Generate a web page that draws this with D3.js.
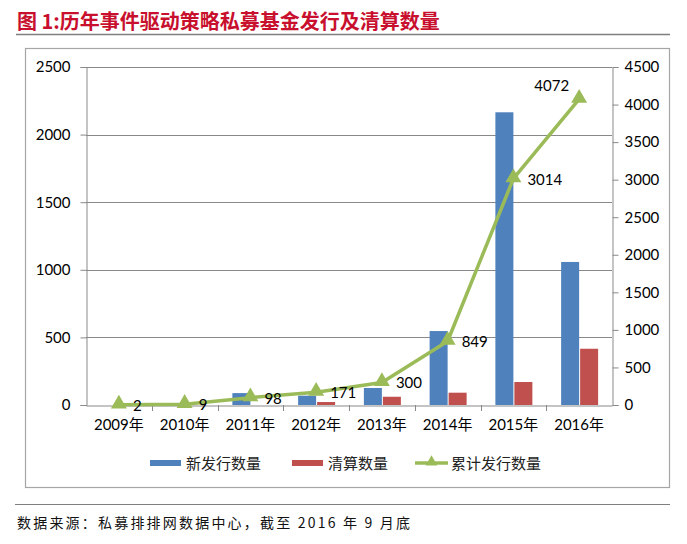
<!DOCTYPE html>
<html>
<head>
<meta charset="utf-8">
<script src="https://cdn.jsdelivr.net/npm/d3@7"></script>
<style>
  body { margin: 0; background: #fff; }
  text { font-family: Lato, "Noto Sans CJK SC", sans-serif; }
</style>
</head>
<body>
<div id="chart"></div>
<script>
// data
const years = ["2009年", "2010年", "2011年", "2012年", "2013年", "2014年", "2015年", "2016年"];
const newFunds = [0, 0, 88, 69, 126, 547, 2165, 1058];
const liquidated = [0, 0, 0, 22, 61, 91, 170, 416];
const cumulative = [2, 9, 98, 171, 300, 849, 3014, 4072];
const leftTicks = [0, 500, 1000, 1500, 2000, 2500];
const rightTicks = [0, 500, 1000, 1500, 2000, 2500, 3000, 3500, 4000, 4500];
const seriesNames = ["新发行数量", "清算数量", "累计发行数量"];

const W = 687, H = 544;
const plot = { left: 86, right: 612, top: 67, bottom: 405 };
const colors = { blue: "#4f81bd", red: "#c0504d", green: "#9bbb59", grid: "#898989" };

const svg = d3.select("#chart").append("svg")
  .attr("width", W).attr("height", H);

// title
svg.append("text")
  .attr("x", 17).attr("y", 29)
  .attr("fill", "#c8102e")
  .style("font-family", "'Noto Sans CJK SC', sans-serif")
  .style("font-size", "20px")
  .style("font-weight", "bold")
  .text("图 1:历年事件驱动策略私募基金发行及清算数量");

svg.append("line")
  .attr("x1", 16).attr("x2", 670).attr("y1", 34.5).attr("y2", 34.5)
  .attr("stroke", "#7f7f7f").attr("stroke-width", 1.5);

// chart frame
svg.append("rect")
  .attr("x", 25.5).attr("y", 48.5).attr("width", 644).attr("height", 439)
  .attr("fill", "none").attr("stroke", "#a6a6a6").attr("stroke-width", 1.2);

// scales
const x = d3.scaleBand().domain(years).range([plot.left, plot.right]);
const xInner = d3.scaleBand().domain(["new", "liq"]).range([0, 36]);
const yL = d3.scaleLinear().domain([0, 2500]).range([plot.bottom, plot.top]);
const yR = d3.scaleLinear().domain([0, 4500]).range([plot.bottom, plot.top]);

// gridlines
svg.append("g")
  .selectAll("line")
  .data(leftTicks.slice(1))
  .join("line")
  .attr("x1", plot.left).attr("x2", plot.right)
  .attr("y1", d => Math.round(yL(d)) + 0.5).attr("y2", d => Math.round(yL(d)) + 0.5)
  .attr("stroke", colors.grid).attr("stroke-width", 1);

// bars
const groups = svg.append("g")
  .selectAll("g")
  .data(years.map((yr, i) => ({ yr, new: newFunds[i], liq: liquidated[i] })))
  .join("g")
  .attr("transform", d => `translate(${x(d.yr) + x.bandwidth() / 2 - 18},0)`);

groups.append("rect")
  .attr("x", xInner("new"))
  .attr("y", d => yL(d.new))
  .attr("width", 18)
  .attr("height", d => yL(0) - yL(d.new))
  .attr("fill", colors.blue);

groups.append("rect")
  .attr("x", xInner("liq") + 1)
  .attr("y", d => yL(d.liq))
  .attr("width", 18)
  .attr("height", d => yL(0) - yL(d.liq))
  .attr("fill", colors.red);

// axes
const axisFont = g => g.selectAll("text")
  .style("font-family", "Lato, sans-serif")
  .style("font-size", "15px")
  .attr("fill", "#000");

const leftAxis = svg.append("g")
  .attr("transform", `translate(${plot.left + 0.5},0)`)
  .call(d3.axisLeft(yL).tickValues(leftTicks).tickFormat(d3.format("d")).tickSize(6).tickPadding(10));
leftAxis.call(axisFont);

const rightAxis = svg.append("g")
  .attr("transform", `translate(${plot.right + 0.5},0)`)
  .call(d3.axisRight(yR).tickValues(rightTicks).tickFormat(d3.format("d")).tickSize(6).tickPadding(6));
rightAxis.call(axisFont);

const bottomAxis = svg.append("g")
  .attr("transform", `translate(0,${plot.bottom + 0.5})`)
  .call(d3.axisBottom(x).tickSize(0).tickPadding(14));
bottomAxis.call(axisFont);
bottomAxis.selectAll("text").style("font-family", "Lato, 'Noto Sans CJK SC', sans-serif");

// category separator ticks on x axis
svg.append("g")
  .selectAll("line")
  .data(years.slice(1))
  .join("line")
  .attr("x1", d => Math.round(x(d)) + 0.5).attr("x2", d => Math.round(x(d)) + 0.5)
  .attr("y1", plot.bottom).attr("y2", plot.bottom + 6)
  .attr("stroke", colors.grid);

svg.selectAll(".domain, .tick line").attr("stroke", colors.grid);

// cumulative line
const cx = d => x(d.yr) + x.bandwidth() / 2;
const lineData = years.map((yr, i) => ({ yr, v: cumulative[i] }));

svg.append("path")
  .datum(lineData)
  .attr("fill", "none")
  .attr("stroke", colors.green)
  .attr("stroke-width", 3.5)
  .attr("stroke-linejoin", "round")
  .attr("d", d3.line().x(cx).y(d => yR(d.v)));

const tri = d3.symbol().type(d3.symbolTriangle).size(110);
svg.append("g")
  .selectAll("path")
  .data(lineData)
  .join("path")
  .attr("transform", d => `translate(${cx(d)},${yR(d.v) - 1})`)
  .attr("d", tri)
  .attr("fill", colors.green);

svg.append("g")
  .selectAll("text")
  .data(lineData)
  .join("text")
  .attr("x", (d, i) => i === lineData.length - 1 ? cx(d) - 10 : cx(d) + 14)
  .attr("y", (d, i) => i === lineData.length - 1 ? yR(d.v) - 8 : yR(d.v) + 6)
  .attr("text-anchor", (d, i) => i === lineData.length - 1 ? "end" : "start")
  .style("font-size", "15px")
  .text(d => d.v);

// legend
const legend = svg.append("g").attr("transform", "translate(0,463)");
const legendItems = [
  { name: seriesNames[0], x: 150, type: "bar", color: colors.blue },
  { name: seriesNames[1], x: 292, type: "bar", color: colors.red },
  { name: seriesNames[2], x: 415, type: "line", color: colors.green }
];
legendItems.forEach(item => {
  if (item.type === "bar") {
    legend.append("rect")
      .attr("x", item.x).attr("y", -3).attr("width", 31).attr("height", 6)
      .attr("fill", item.color);
  } else {
    legend.append("line")
      .attr("x1", item.x).attr("x2", item.x + 33).attr("y1", 0).attr("y2", 0)
      .attr("stroke", item.color).attr("stroke-width", 3.5);
    legend.append("path")
      .attr("transform", `translate(${item.x + 16.5},-1)`)
      .attr("d", d3.symbol().type(d3.symbolTriangle).size(60))
      .attr("fill", item.color);
  }
  legend.append("text")
    .attr("x", item.x + 36).attr("y", 6)
    .style("font-family", "'Noto Sans CJK SC', sans-serif")
    .style("font-size", "15px")
    .attr("fill", "#222")
    .text(item.name);
});

// source note
svg.append("line")
  .attr("x1", 15).attr("x2", 670).attr("y1", 504.5).attr("y2", 504.5)
  .attr("stroke", "#7f7f7f").attr("stroke-width", 1.2);

svg.append("text")
  .attr("x", 17).attr("y", 528)
  .style("font-family", "'Noto Sans CJK SC', sans-serif")
  .style("font-size", "14px")
  .style("letter-spacing", "2.2px")
  .attr("fill", "#111")
  .text("数据来源：私募排排网数据中心，截至 2016 年 9 月底");
</script>
</body>
</html>
